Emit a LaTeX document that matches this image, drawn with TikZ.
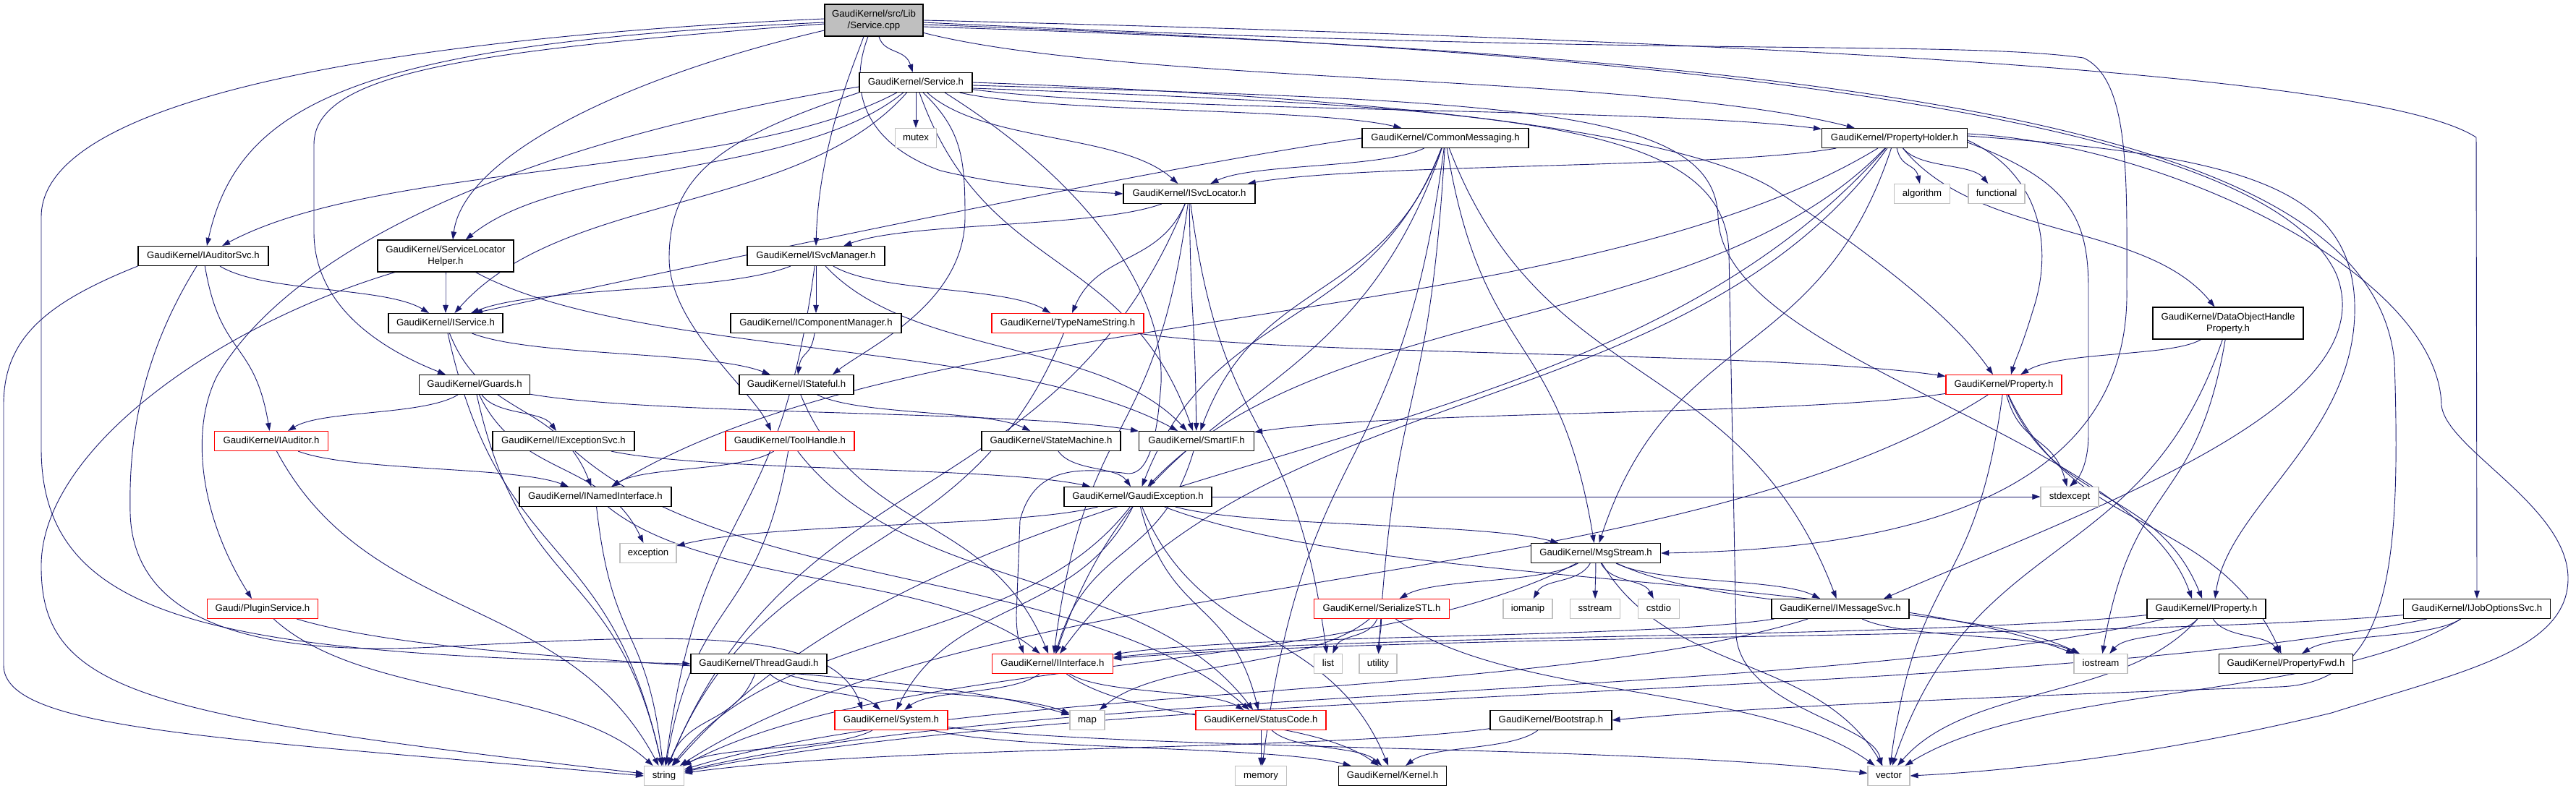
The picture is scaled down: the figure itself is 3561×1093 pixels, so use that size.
\documentclass[tikz,border=0pt]{standalone}
\usepackage{fontspec}
\newfontfamily\lsans{Liberation Sans}
\usetikzlibrary{arrows.meta,calc}
\definecolor{edgec}{HTML}{191970}
\definecolor{gbox}{HTML}{BFBFBF}
\definecolor{rootg}{HTML}{BFBFBF}
\pgfdeclarelayer{bg}
\pgfsetlayers{bg,main}
\newdimen\eXa \newdimen\eYa \newdimen\eXb \newdimen\eYb
\newcommand\ED[2]{%
  \path (#1.center); \pgfgetlastxy{\eXa}{\eYa}%
  \path (#2.center); \pgfgetlastxy{\eXb}{\eYb}%
  \pgfmathsetmacro\eCxa{0.75*\eXa+0.25*\eXb}%
  \pgfmathsetmacro\eCya{0.45*\eYa+0.55*\eYb}%
  \pgfmathsetmacro\eCxb{0.25*\eXa+0.75*\eXb}%
  \pgfmathsetmacro\eCyb{0.55*\eYa+0.45*\eYb}%
  \draw[e] (#1) .. controls (\eCxa pt,\eCya pt) and (\eCxb pt,\eCyb pt) .. (#2);%
}
\tikzset{
  base/.style={draw=black, line width=1.1pt, fill=white, font=\lsans\fontsize{13.2}{16}\selectfont, inner xsep=2pt, inner ysep=0pt},
  box/.style={base, minimum height=27pt, text height=9.6pt, text depth=2.8pt},
  boxtwo/.style={base, minimum height=44pt, align=center},
  ext/.style={box, draw=gbox},
  trunc/.style={box, draw=red},
  rootn/.style={boxtwo, fill=rootg},
  e/.style={draw=edgec, line width=0.9pt, -{Triangle[length=11pt,width=7.5pt]}}
}
\begin{document}
\begin{tikzpicture}[x=1pt,y=-1pt]
\useasboundingbox (0,0) rectangle (3561,1093);
% nodes
\node[rootn, minimum width=136pt] (R) at (1208,28) {GaudiKernel/src/Lib\\/Service.cpp};
\node[box, minimum width=156pt] (SH) at (1266,114) {GaudiKernel/Service.h};
\node[ext, minimum width=57pt] (MUT) at (1266,191) {mutex};
\node[box, minimum width=230pt] (CM) at (1998,191) {GaudiKernel/CommonMessaging.h};
\node[box, minimum width=201pt] (PH) at (2619,191) {GaudiKernel/PropertyHolder.h};
\node[box, minimum width=182pt] (ISL) at (1644,268) {GaudiKernel/ISvcLocator.h};
\node[ext, minimum width=77pt] (ALG) at (2657,268) {algorithm};
\node[ext, minimum width=78pt] (FUN) at (2760,268) {functional};
\node[box, minimum width=180pt] (IAS) at (281,354) {GaudiKernel/IAuditorSvc.h};
\node[boxtwo, minimum width=188pt] (SLH) at (616,354) {GaudiKernel/ServiceLocator\\Helper.h};
\node[box, minimum width=190pt] (ISM) at (1128,354) {GaudiKernel/ISvcManager.h};
\node[box, minimum width=158pt] (ISV) at (616,447) {GaudiKernel/IService.h};
\node[box, minimum width=236pt] (ICM) at (1128,447) {GaudiKernel/IComponentManager.h};
\node[trunc, minimum width=210pt] (TNS) at (1476,447) {GaudiKernel/TypeNameString.h};
\node[boxtwo, minimum width=208pt] (DOH) at (3080,447) {GaudiKernel/DataObjectHandle\\Property.h};
\node[box, minimum width=153pt] (GRD) at (656,532) {GaudiKernel/Guards.h};
\node[box, minimum width=158pt] (IST) at (1101,532) {GaudiKernel/IStateful.h};
\node[trunc, minimum width=160pt] (PRO) at (2770,532) {GaudiKernel/Property.h};
\node[trunc, minimum width=157pt] (IAR) at (375,610) {GaudiKernel/IAuditor.h};
\node[box, minimum width=196pt] (IEX) at (779,610) {GaudiKernel/IExceptionSvc.h};
\node[trunc, minimum width=178pt] (TH) at (1092,610) {GaudiKernel/ToolHandle.h};
\node[box, minimum width=192pt] (STM) at (1453,610) {GaudiKernel/StateMachine.h};
\node[box, minimum width=159pt] (SIF) at (1654,610) {GaudiKernel/SmartIF.h};
\node[box, minimum width=210pt] (INI) at (823,687) {GaudiKernel/INamedInterface.h};
\node[box, minimum width=204pt] (GE) at (1573,687) {GaudiKernel/GaudiException.h};
\node[ext, minimum width=80pt] (STDX) at (2861,687) {stdexcept};
\node[ext, minimum width=78pt] (EXC) at (896,765) {exception};
\node[box, minimum width=179pt] (MS) at (2206,765) {GaudiKernel/MsgStream.h};
\node[trunc, minimum width=153pt] (PS) at (363,842) {Gaudi/PluginService.h};
\node[trunc, minimum width=187pt] (SSTL) at (1910,842) {GaudiKernel/SerializeSTL.h};
\node[ext, minimum width=68pt] (IOM) at (2112,842) {iomanip};
\node[ext, minimum width=69pt] (SST) at (2205,842) {sstream};
\node[ext, minimum width=57pt] (CST) at (2293,842) {cstdio};
\node[box, minimum width=190pt] (IMS) at (2544,842) {GaudiKernel/IMessageSvc.h};
\node[box, minimum width=164pt] (IPR) at (3050,842) {GaudiKernel/IProperty.h};
\node[box, minimum width=203pt] (IJO) at (3424,842) {GaudiKernel/IJobOptionsSvc.h};
\node[box, minimum width=188pt] (TG) at (1049,918) {GaudiKernel/ThreadGaudi.h};
\node[trunc, minimum width=167pt] (IIF) at (1455,918) {GaudiKernel/IInterface.h};
\node[ext, minimum width=39pt] (LST) at (1836,918) {list};
\node[ext, minimum width=52pt] (UTL) at (1905,918) {utility};
\node[ext, minimum width=74pt] (IOS) at (2904,918) {iostream};
\node[box, minimum width=185pt] (PFW) at (3160,918) {GaudiKernel/PropertyFwd.h};
\node[trunc, minimum width=156pt] (SYS) at (1232,996) {GaudiKernel/System.h};
\node[ext, minimum width=48pt] (MAP) at (1503,996) {map};
\node[trunc, minimum width=180pt] (STC) at (1743,996) {GaudiKernel/StatusCode.h};
\node[box, minimum width=168pt] (BS) at (2144,996) {GaudiKernel/Bootstrap.h};
\node[ext, minimum width=55pt] (STR) at (918,1073) {string};
\node[ext, minimum width=71pt] (MEM) at (1743,1073) {memory};
\node[box, minimum width=149pt] (KER) at (1925,1073) {GaudiKernel/Kernel.h};
\node[ext, minimum width=58pt] (VEC) at (2611,1073) {vector};
% edges
\begin{pgfonlayer}{bg}
\fill[white] (0,0) rectangle (3561,1093);
% root
\ED{R}{SH} \ED{R}{PH}
\draw[e] ([yshift=2pt]R.west) .. controls (700,45) and (57,110) .. (57,300) -- (57,620) .. controls (57,860) and (300,905) .. (TG.west);
\draw[e] ([yshift=-3pt]R.west) .. controls (500,60) and (330,140) .. ([xshift=5pt]IAS.north);
\draw[e] ([yshift=-5pt]R.west) .. controls (650,70) and (434,100) .. (434,200) -- (434,321) .. controls (434,420) and (520,480) .. ([xshift=-40pt]GRD.north);
\draw[e] ([yshift=-14pt]R.west) .. controls (850,110) and (640,220) .. ([xshift=10pt]SLH.north);
\draw[e] ([xshift=-14pt]R.south) .. controls (1180,90) and (1132,200) .. (ISM.north);
\draw[e] ([xshift=-8pt]R.south) .. controls (1170,130) and (1200,200) .. (1300,236) .. controls (1400,260) and (1500,265) .. (ISL.west);
\draw[e] ([yshift=-3pt]R.east) .. controls (2300,80) and (2700,55) .. (2880,80) .. controls (2945,110) and (2940,250) .. (2940,400) .. controls (2945,700) and (2600,760) .. (MS.east);
\draw[e] ([yshift=-6pt]R.east) .. controls (2600,80) and (3150,200) .. (3230,380) .. controls (3300,560) and (2900,700) .. ([xshift=60pt]IMS.north);
\draw[e] ([yshift=-9pt]R.east) .. controls (2700,80) and (3280,200) .. (3310,500) .. controls (3320,800) and (3300,945) .. (3150,950) .. controls (2700,965) and (2400,980) .. (BS.east);
\draw[e] (R.east) .. controls (2600,60) and (3300,110) .. (3423,190) -- (IJO.north);
% Service.h
\ED{SH}{MUT} \ED{SH}{CM} \ED{SH}{PH} \ED{SH}{ISL} \ED{SH}{IAS} \ED{SH}{SLH}
\ED{SH}{ISV} \ED{SH}{SIF}
\draw[e] ([xshift=10pt]SH.south) .. controls (1330,180) and (1334,220) .. (1334,300) .. controls (1334,420) and (1200,480) .. ([xshift=50pt]IST.north);
\draw[e] (SH.south west) .. controls (1000,190) and (925,240) .. (925,357) .. controls (925,450) and (1040,540) .. ([xshift=-26pt]TH.north);
\draw[e] ([yshift=-6pt]SH.west) .. controls (700,200) and (400,350) .. (300,520) .. controls (260,600) and (280,720) .. ([xshift=-15pt]PS.north);
\draw[e] (SH.east) .. controls (1800,130) and (2300,170) .. (2450,260) .. controls (2600,360) and (2700,440) .. ([xshift=-15pt]PRO.north);
\draw[e] ([yshift=-4pt]SH.east) .. controls (2100,140) and (2370,150) .. (2375,300) .. controls (2380,500) and (2950,600) .. ([xshift=-20pt]IPR.north);
\draw[e] ([yshift=-8pt]SH.east) .. controls (2100,150) and (2385,170) .. (2390,350) -- (2400,880) .. controls (2410,980) and (2590,1000) .. ([xshift=-10pt]VEC.north);
\draw[e] ([xshift=40pt]SH.south) .. controls (1500,250) and (1610,400) .. (1605,530) .. controls (1600,600) and (1590,655) .. (1560,655) .. controls (1500,648) and (1430,640) .. (1410,720) -- (1405,850) .. controls (1405,880) and (1410,890) .. ([xshift=-40pt]IIF.north);
% CommonMessaging
\draw[e] (CM.west) .. controls (1600,230) and (900,380) .. ([xshift=40pt]ISV.north);
\ED{CM}{ISL} \ED{CM}{SIF} \ED{CM}{GE} \ED{CM}{MS} \ED{CM}{IMS}
\ED{CM}{IIF} \ED{CM}{MEM} \ED{CM}{UTL}
% PropertyHolder
\ED{PH}{ALG} \ED{PH}{FUN} \ED{PH}{ISL} \ED{PH}{DOH}
\ED{PH}{MS} \ED{PH}{INI} \ED{PH}{IIF} \ED{PH}{STR} \ED{PH}{GE}
\draw[e] ([yshift=-3pt]PH.east) .. controls (2820,240) and (2840,340) .. (2810,430) .. controls (2795,480) and (2785,500) .. ([xshift=10pt]PRO.north);
\draw[e] ([yshift=-6pt]PH.east) .. controls (2860,250) and (2887,300) .. (2887,400) -- (2887,600) .. controls (2887,640) and (2875,660) .. (STDX.north);
\draw[e] ([yshift=3pt]PH.east) .. controls (3100,215) and (3250,260) .. (3255,420) .. controls (3260,600) and (3080,700) .. ([xshift=12pt]IPR.north);
\draw[e] ([yshift=6pt]PH.east) .. controls (3000,200) and (3370,380) .. (3375,560) .. controls (3380,620) and (3550,700) .. (3550,800) .. controls (3550,900) and (3400,930) .. (3223,986) .. controls (3000,1040) and (2800,1065) .. (VEC.east);
% ISvcLocator
\ED{ISL}{ISM} \ED{ISL}{TNS} \ED{ISL}{IIF} \ED{ISL}{SIF} \ED{ISL}{LST} \ED{ISL}{STR}
% IAuditorSvc
\ED{IAS}{IAR} \ED{IAS}{ISV}
\draw[e] ([xshift=-9pt]IAS.south) .. controls (190,500) and (178,620) .. (180,710) .. controls (185,880) and (400,905) .. (600,895) .. controls (900,880) and (1150,860) .. ([xshift=-40pt]SYS.north);
\draw[e] (IAS.south west) .. controls (60,420) and (5,470) .. (5,560) -- (5,920) .. controls (5,1010) and (300,1020) .. (STR.west);
% ServiceLocatorHelper
\ED{SLH}{ISV} \ED{SLH}{SIF}
\draw[e] ([xshift=-70pt]SLH.south) .. controls (300,450) and (60,620) .. (57,780) .. controls (55,960) and (200,990) .. ([yshift=3pt]STR.west);
% ISvcManager
\ED{ISM}{ISV} \ED{ISM}{ICM} \ED{ISM}{TNS} \ED{ISM}{SIF} \ED{ISM}{STR}
\ED{ICM}{IST}
\ED{TNS}{PRO} \ED{TNS}{STR}
\ED{ISV}{INI} \ED{ISV}{IST} \ED{ISV}{STR}
\ED{DOH}{PRO} \ED{DOH}{IOS} \ED{DOH}{VEC}
% Guards
\ED{GRD}{IAR} \ED{GRD}{IEX} \ED{GRD}{EXC} \ED{GRD}{SIF} \ED{GRD}{STR}
\ED{IST}{STM} \ED{IST}{IIF}
% Property
\ED{PRO}{STDX} \ED{PRO}{IPR} \ED{PRO}{PFW} \ED{PRO}{VEC} \ED{PRO}{SIF} \ED{PRO}{STR}
\ED{TH}{INI} \ED{TH}{STR} \ED{TH}{STC}
\ED{IAR}{INI} \ED{IAR}{STR}
\ED{IEX}{GE} \ED{IEX}{STC}
\ED{INI}{IIF} \ED{INI}{STR}
\ED{STM}{GE}
\ED{SIF}{IIF}
% GaudiException
\ED{GE}{EXC} \ED{GE}{MS} \ED{GE}{SYS} \ED{GE}{STC} \ED{GE}{KER} \ED{GE}{STR}
\ED{GE}{IOS} \ED{GE}{STDX}
% MsgStream
\ED{MS}{SSTL} \ED{MS}{IOM} \ED{MS}{SST} \ED{MS}{CST} \ED{MS}{IMS} \ED{MS}{STR}
\ED{MS}{IOS} \ED{MS}{VEC}
\ED{SSTL}{LST} \ED{SSTL}{UTL} \ED{SSTL}{MAP} \ED{SSTL}{VEC}
\ED{IMS}{IIF} \ED{IMS}{IOS} \ED{IMS}{STR}
\ED{IPR}{IIF} \ED{IPR}{IOS} \ED{IPR}{PFW} \ED{IPR}{VEC} \ED{IPR}{STR}
\ED{IJO}{PFW} \ED{IJO}{IIF} \ED{IJO}{VEC} \ED{IJO}{STR}
\ED{IIF}{SYS} \ED{IIF}{STC} \ED{IIF}{KER}
\ED{SYS}{KER} \ED{SYS}{STR} \ED{SYS}{VEC}
\ED{STC}{MEM} \ED{STC}{KER}
\ED{BS}{KER} \ED{BS}{STR}
\ED{TG}{SYS} \ED{TG}{MAP} \ED{TG}{STR}
\ED{PS}{STR} \ED{PS}{MAP}
\end{pgfonlayer}
\end{tikzpicture}
\end{document}
